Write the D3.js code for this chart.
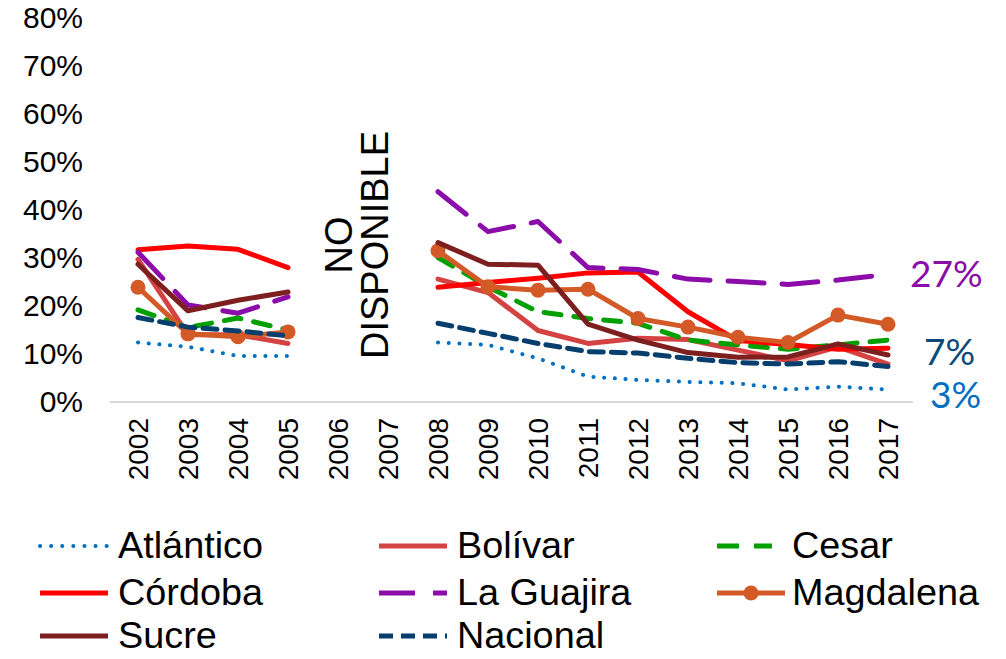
<!DOCTYPE html>
<html>
<head>
<meta charset="utf-8">
<script src="https://cdn.jsdelivr.net/npm/d3@7"></script>
<style>
  body { margin: 0; background: #fff; }
  svg { font-family: "Liberation Sans", Arial, sans-serif; }
</style>
</head>
<body>
<svg id="chart" width="1006" height="659"></svg>
<script>
const years = ['2002', '2003', '2004', '2005', '2006', '2007', '2008', '2009',
    '2010', '2011', '2012', '2013', '2014', '2015', '2016', '2017'];
const yTicks = [0, 0.1, 0.2, 0.3, 0.4, 0.5, 0.6, 0.7, 0.8];

// percent values, 2006 and 2007 not available
const atlantico = [12.4, 11.5, 9.6, 9.6, null, null, 12.4, 11.9, 9.1, 5.3, 4.6, 4.2, 3.9, 2.6, 3.2, 2.6];
const bolivar = [29.7, 14.0, 14.0, 12.2, null, null, 25.6, 22.8, 14.9, 12.2, 13.3, 13.0, 10.8, 8.6, 11.5, 7.9];
const cesar = [19.2, 15.5, 17.5, 15.0, null, null, 30.1, 24.0, 18.8, 17.4, 16.4, 12.9, 11.9, 11.0, 11.9, 12.9];
const cordoba = [31.7, 32.5, 31.8, 28.0, null, null, 23.9, 24.9, 25.8, 26.9, 27.1, 18.8, 12.8, 12.0, 11.0, 11.2];
const guajira = [31.2, 20.2, 18.5, 21.9, null, null, 43.8, 35.5, 37.6, 28.0, 27.6, 25.6, 25.1, 24.5, 25.4, 26.6];
const magdalena = [23.9, 14.2, 13.6, 14.6, null, null, 31.5, 24.0, 23.3, 23.5, 17.4, 15.6, 13.5, 12.4, 18.1, 16.2];
const sucre = [28.7, 19.0, 21.2, 22.9, null, null, 33.2, 28.7, 28.5, 16.2, 12.9, 10.3, 9.3, 9.4, 12.1, 9.8];
const nacional = [17.6, 15.6, 14.8, 13.8, null, null, 16.4, 14.3, 12.2, 10.5, 10.2, 9.1, 8.2, 7.9, 8.4, 7.4];

const series = [
    { name: 'Atlántico', values: atlantico, color: '#0070C0', width: 4, dash: '0.1 10.6', cap: 'round', endLabel: { dx: 42, dy: 4, color: '#0070C0' } },
    { name: 'Bolívar', values: bolivar, color: '#D44242', width: 5 },
    { name: 'Cesar', values: cesar, color: '#00A000', width: 5, dash: '17 13', legendDash: '22 15' },
    { name: 'Córdoba', values: cordoba, color: '#FF0000', width: 5 },
    { name: 'La Guajira', values: guajira, color: '#8B0CA8', width: 5, dash: '36 18', endLabel: { dx: 22, dy: -2, color: '#8B0CA8' } },
    { name: 'Magdalena', values: magdalena, color: '#D35A26', width: 5, marker: true },
    { name: 'Sucre', values: sucre, color: '#7D1F1F', width: 5 },
    { name: 'Nacional', values: nacional, color: '#063F6E', width: 5, dash: '14 8', endLabel: { dx: 36, dy: -16, color: '#0B4A78' } },
];

const svg = d3.select('#chart');

const xScale = d3.scaleBand().domain(years).range([113, 913]);
const yScale = d3.scaleLinear().domain([0, 0.8]).range([402, 18]);
const posX = (i) => xScale(years[i]) + xScale.bandwidth() / 2;
const posY = (v) => yScale(v / 100);

// y axis labels only
svg.append('g')
    .attr('transform', 'translate(83, 0)')
    .call(d3.axisLeft(yScale).tickValues(yTicks).tickFormat(d3.format('.0%')).tickSize(0).tickPadding(0))
    .call((g) => g.select('.domain').remove())
    .selectAll('text')
    .attr('font-size', 30)
    .attr('font-family', '"Liberation Sans", Arial, sans-serif')
    .attr('fill', '#000');

// x axis
svg.append('line')
    .attr('x1', 110)
    .attr('x2', 913)
    .attr('y1', yScale(0))
    .attr('y2', yScale(0))
    .attr('stroke', '#D9D9D9')
    .attr('stroke-width', 2);

svg.append('g')
    .selectAll('text')
    .data(years)
    .enter()
    .append('text')
    .attr('transform', (d) => `translate(${xScale(d) + xScale.bandwidth() / 2 + 10}, 418) rotate(-90)`)
    .attr('text-anchor', 'end')
    .attr('font-size', 28)
    .attr('fill', '#000')
    .text((d) => d);

// NO DISPONIBLE note
const note = svg.append('text')
    .attr('transform', `translate(${(xScale('2006') + xScale('2007') + xScale.bandwidth()) / 2 + 2}, 245) rotate(-90)`)
    .attr('text-anchor', 'middle')
    .attr('font-size', 38)
    .attr('fill', '#000');
note.append('tspan').attr('x', 0).attr('y', -13).text('NO');
note.append('tspan').attr('x', 0).attr('y', 23).text('DISPONIBLE');

const line = d3.line()
    .defined((d) => d != null)
    .x((d, i) => posX(i))
    .y((d) => posY(d));

const lines = svg.append('g').attr('class', 'lines');

series.forEach((s) => {
    lines.append('path')
        .datum(s.values)
        .attr('fill', 'none')
        .attr('stroke', s.color)
        .attr('stroke-width', s.width)
        .attr('stroke-dasharray', s.dash || null)
        .attr('stroke-linecap', s.cap || 'round')
        .attr('stroke-linejoin', 'round')
        .attr('d', line);

    if (s.marker) {
        lines.append('g')
            .selectAll('circle')
            .data(s.values.map((v, i) => ({ v, i })).filter((d) => d.v != null))
            .enter()
            .append('circle')
            .attr('cx', (d) => posX(d.i))
            .attr('cy', (d) => posY(d.v))
            .attr('r', 7.5)
            .attr('fill', s.color);
    }

    if (s.endLabel) {
        const last = s.values.length - 1;
        svg.append('text')
            .attr('x', posX(last) + s.endLabel.dx)
            .attr('y', posY(s.values[last]) + s.endLabel.dy)
            .attr('dominant-baseline', 'central')
            .attr('font-family', 'Lato, "Open Sans", sans-serif')
            .attr('font-size', 37)
            .attr('fill', s.endLabel.color)
            .text(d3.format('.0%')(s.values[last] / 100));
    }
});

// legend
const legendCols = [40, 379, 717];
const legendRows = [546, 593, 636];
const legend = svg.append('g')
    .selectAll('g')
    .data(series)
    .enter()
    .append('g')
    .attr('transform', (d, i) => `translate(${legendCols[i % 3]}, ${legendRows[Math.floor(i / 3)]})`);

legend.append('line')
    .attr('x1', 0)
    .attr('x2', (d) => (d.legendDash ? 55 : 68))
    .attr('stroke', (d) => d.color)
    .attr('stroke-width', (d) => d.width)
    .attr('stroke-dasharray', (d) => d.legendDash || (d.dash ? d.dash.replace('10.6', '11') : null))
    .attr('stroke-linecap', (d) => d.cap || 'butt');

legend.filter((d) => d.marker)
    .append('circle')
    .attr('cx', 34)
    .attr('r', 7.5)
    .attr('fill', (d) => d.color);

legend.append('text')
    .attr('transform', (d, i) => `translate(${i % 3 === 2 ? 75 : 78}, 0) scale(1.05, 1)`)
    .attr('dominant-baseline', 'central')
    .attr('font-size', 36)
    .attr('fill', '#000')
    .text((d) => d.name);
</script>
</body>
</html>
